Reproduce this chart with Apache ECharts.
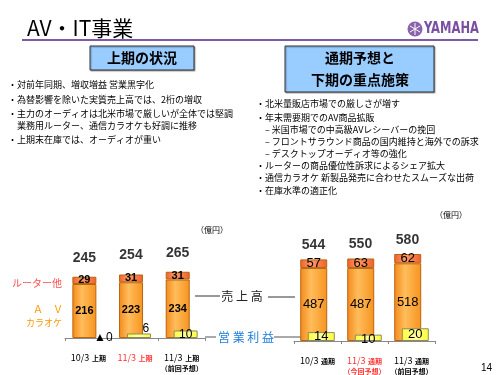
<!DOCTYPE html>
<html>
<head>
<meta charset="utf-8">
<title>AV・IT事業</title>
<script src="https://cdn.jsdelivr.net/npm/echarts@6/dist/echarts.min.js"></script>
<style>
    html, body { margin: 0; padding: 0; background: #fff; }
    #main { width: 500px; height: 375px; }
</style>
</head>
<body>
<div id="main"></div>
<script type="text/javascript">
    // 上期 (億円)
    var halfCats = ['10/3 上期', '11/3 上期', '11/3 上期\n（前回予想）'];
    var halfAV = [216, 223, 234];
    var halfRouter = [29, 31, 31];
    var halfSales = [245, 254, 265];
    var halfOp = [0, 6, 10];
    var halfOpText = ['▲0', '6', '10'];

    // 通期 (億円)
    var fullCats = ['10/3 通期', '11/3 通期\n（今回予想）', '11/3 通期\n（前回予想）'];
    var fullAV = [487, 487, 518];
    var fullRouter = [57, 63, 62];
    var fullSales = [544, 550, 580];
    var fullOp = [14, 10, 20];
    var fullOpText = ['14', '10', '20'];

    var leftNotes = [
        '・対前年同期、増収増益 営業黒字化',
        '・為替影響を除いた実質売上高では、2桁の増収',
        '・主力のオーディオは北米市場で厳しいが全体では堅調',
        '　業務用ルーター、通信カラオケも好調に推移',
        '・上期末在庫では、オーディオが重い'
    ];
    var rightNotes = [
        '・北米量販店市場での厳しさが増す',
        '・年末需要期でのAV商品拡販',
        '　– 米国市場での中高級AVレシーバーの挽回',
        '　– フロントサラウンド商品の国内維持と海外での訴求',
        '　– デスクトップオーディオ等の強化',
        '・ルーターの商品優位性訴求によるシェア拡大',
        '・通信カラオケ 新製品発売に合わせたスムーズな出荷',
        '・在庫水準の適正化'
    ];

    var jp = '"Noto Sans CJK JP", sans-serif';

    var orange = {
        color: {
            type: 'linear', x: 0, y: 0, x2: 1, y2: 0,
            colorStops: [{offset: 0, color: '#f5891a'}, {offset: 0.4, color: '#ffbd5c'}, {offset: 1, color: '#f7931e'}]
        },
        borderColor: '#b8660f',
        borderWidth: 1
    };
    var red = {
        color: {
            type: 'linear', x: 0, y: 0, x2: 1, y2: 0,
            colorStops: [{offset: 0, color: '#f0602a'}, {offset: 0.4, color: '#ff9a6a'}, {offset: 1, color: '#f0602a'}]
        },
        borderColor: '#b8660f',
        borderWidth: 1
    };
    var yellow = {
        color: {
            type: 'linear', x: 0, y: 0, x2: 1, y2: 0,
            colorStops: [{offset: 0, color: '#ffff33'}, {offset: 0.5, color: '#ffffa0'}, {offset: 1, color: '#ffff33'}]
        },
        borderColor: '#8a8a60',
        borderWidth: 1
    };

    function catLabel(value, index) {
        var lines = value.split('\n');
        var head = lines[0].split(' ');
        var r = index === 1 ? 'r' : '';
        var s = '{n' + r + '|' + head[0] + '} {s' + r + '|' + head[1] + '}';
        if (lines[1]) {
            s += '\n{s' + r + '|' + lines[1] + '}';
        }
        return s;
    }

    var catRich = {
        n: {fontSize: 9, color: '#000', fontFamily: jp, lineHeight: 9},
        s: {fontSize: 7, fontWeight: 'bold', color: '#000', fontFamily: jp, lineHeight: 9},
        nr: {fontSize: 9, color: '#ff3333', fontFamily: jp, lineHeight: 9},
        sr: {fontSize: 7, fontWeight: 'bold', color: '#ff3333', fontFamily: jp, lineHeight: 9}
    };

    function xAxisFor(gridIndex, cats) {
        return {
            type: 'category',
            gridIndex: gridIndex,
            data: cats,
            axisLine: {lineStyle: {color: '#888', width: 1}},
            axisTick: {show: true, length: 3, lineStyle: {color: '#888'}},
            axisLabel: {interval: 0, margin: 14, formatter: catLabel, rich: catRich, verticalAlign: 'top'}
        };
    }

    function yAxisFor(gridIndex, max) {
        return {type: 'value', gridIndex: gridIndex, min: 0, max: max, show: false, splitLine: {show: false}};
    }

    var halfOpPos = [
        {position: 'inside', offset: [11, 0], fontSize: 12},
        {position: 'top', distance: 0, offset: [7, 1], fontSize: 12},
        {position: 'inside', fontSize: 12}
    ];
    var fullOpPos = [
        {position: 'inside', fontSize: 13},
        {position: 'inside', offset: [0, 2], fontSize: 13},
        {position: 'inside', fontSize: 13}
    ];

    function opData(values, texts, pos) {
        return values.map(function (v, i) {
            var item = {
                value: v,
                label: Object.assign({show: true, formatter: texts[i], color: '#000', fontFamily: 'Liberation Sans'}, pos[i])
            };
            if (v === 0) {
                item.itemStyle = {color: 'transparent', borderWidth: 0};
            }
            return item;
        });
    }

    var notes = [];
    leftNotes.forEach(function (t, i) {
        notes.push({
            type: 'text', left: 8, top: [80, 95, 109, 121, 135][i],
            style: {text: t, font: '9px ' + jp, fill: '#000'}
        });
    });
    rightNotes.forEach(function (t, i) {
        notes.push({
            type: 'text', left: 256, top: [99, 113, 125, 137, 149, 161, 173, 186][i],
            style: {text: t, font: '9px ' + jp, fill: '#000'}
        });
    });

    var option = {
        animation: false,
        backgroundColor: '#fff',
        textStyle: {fontFamily: jp},
        grid: [
            {left: 65, width: 140, top: 238, height: 100},
            {left: 294, width: 141, top: 236, height: 107}
        ],
        xAxis: [xAxisFor(0, halfCats), xAxisFor(1, fullCats)],
        yAxis: [yAxisFor(0, 400), yAxisFor(0, 133), yAxisFor(1, 700), yAxisFor(1, 165)],
        series: [
            {
                name: 'AV・カラオケ', type: 'bar', xAxisIndex: 0, yAxisIndex: 0, stack: 'half',
                barWidth: 24, barGap: '-67%', data: halfAV, itemStyle: orange,
                label: {show: true, position: 'inside', fontSize: 11, fontWeight: 'bold', color: '#000', fontFamily: 'Liberation Sans'}
            },
            {
                name: 'ルーター他', type: 'bar', xAxisIndex: 0, yAxisIndex: 0, stack: 'half',
                barWidth: 24, barGap: '-67%', data: halfRouter, itemStyle: red,
                label: {show: true, position: 'inside', fontSize: 11, fontWeight: 'bold', color: '#000', fontFamily: 'Liberation Sans'}
            },
            {
                name: '営業利益', type: 'bar', xAxisIndex: 0, yAxisIndex: 1,
                barWidth: 24, barGap: '-67%', data: opData(halfOp, halfOpText, halfOpPos), itemStyle: yellow
            },
            {
                name: '売上高', type: 'scatter', xAxisIndex: 0, yAxisIndex: 0, symbolSize: 0,
                data: halfSales, silent: true,
                label: {show: true, position: 'top', distance: 12, offset: [-4, 0], fontSize: 14, fontWeight: 'bold', color: '#000', fontFamily: 'Liberation Sans'}
            },
            {
                name: 'AV・カラオケ', type: 'bar', xAxisIndex: 1, yAxisIndex: 2, stack: 'full',
                barWidth: 27, barGap: '-72%', data: fullAV, itemStyle: orange,
                label: {show: true, position: 'inside', fontSize: 13, color: '#000', fontFamily: 'Liberation Sans'}
            },
            {
                name: 'ルーター他', type: 'bar', xAxisIndex: 1, yAxisIndex: 2, stack: 'full',
                barWidth: 27, barGap: '-72%', data: fullRouter, itemStyle: red,
                label: {show: true, position: 'inside', fontSize: 13, color: '#000', fontFamily: 'Liberation Sans'}
            },
            {
                name: '営業利益', type: 'bar', xAxisIndex: 1, yAxisIndex: 3,
                barWidth: 27, barGap: '-72%', data: opData(fullOp, fullOpText, fullOpPos), itemStyle: yellow
            },
            {
                name: '売上高', type: 'scatter', xAxisIndex: 1, yAxisIndex: 2, symbolSize: 0,
                data: fullSales, silent: true,
                label: {show: true, position: 'top', distance: 7, offset: [-4, 0], fontSize: 14, fontWeight: 'bold', color: '#000', fontFamily: 'Liberation Sans'}
            }
        ],
        graphic: [
            // タイトル
            {type: 'text', left: 27, top: 18, style: {text: 'AV・IT事業', font: '21px ' + jp, fill: '#000'}},
            {type: 'line', shape: {x1: 22, y1: 40, x2: 478, y2: 40}, style: {stroke: '#7d5aa6', lineWidth: 2}},
            // ロゴ
            {type: 'circle', shape: {cx: 415, cy: 29, r: 7.5}, style: {fill: '#8a63ad'}},
            {type: 'line', shape: {x1: 415, y1: 23, x2: 415, y2: 35}, style: {stroke: '#fff', lineWidth: 1}},
            {type: 'line', shape: {x1: 410, y1: 26, x2: 420, y2: 32}, style: {stroke: '#fff', lineWidth: 1}},
            {type: 'line', shape: {x1: 410, y1: 32, x2: 420, y2: 26}, style: {stroke: '#fff', lineWidth: 1}},
            {type: 'text', x: 424, y: 29, scaleX: 0.8, style: {text: 'YAMAHA', font: 'bold 16px "DejaVu Sans Condensed", "Liberation Sans Narrow", sans-serif', fill: '#7b4fa0', verticalAlign: 'middle'}},
            // 見出し
            {type: 'rect', shape: {x: 90, y: 46, width: 104, height: 24}, style: {fill: '#99ccff', stroke: '#333', lineWidth: 1, shadowColor: 'rgba(0,0,0,0.3)', shadowOffsetX: 1, shadowOffsetY: 1, shadowBlur: 1}},
            {type: 'text', x: 142, y: 58, style: {text: '上期の状況', font: 'bold 14px ' + jp, fill: '#000', align: 'center', verticalAlign: 'middle'}},
            {type: 'rect', shape: {x: 285, y: 46, width: 149, height: 46}, style: {fill: '#99ccff', stroke: '#333', lineWidth: 1, shadowColor: 'rgba(0,0,0,0.3)', shadowOffsetX: 1, shadowOffsetY: 1, shadowBlur: 1}},
            {type: 'text', x: 360, y: 58, style: {text: '通期予想と', font: 'bold 14px ' + jp, fill: '#000', align: 'center', verticalAlign: 'middle'}},
            {type: 'text', x: 360, y: 80, style: {text: '下期の重点施策', font: 'bold 14px ' + jp, fill: '#000', align: 'center', verticalAlign: 'middle'}},
            // 単位
            {type: 'text', x: 196, y: 230, style: {text: '（億円）', font: '8px ' + jp, fill: '#000', verticalAlign: 'middle'}},
            {type: 'text', x: 435, y: 215, style: {text: '（億円）', font: '8px ' + jp, fill: '#000', verticalAlign: 'middle'}},
            // 凡例
            {type: 'text', x: 62, y: 283, style: {text: 'ルーター他', font: '10px ' + jp, fill: '#ff4d4d', align: 'right', verticalAlign: 'middle'}},
            {type: 'text', x: 63, y: 309, style: {text: 'Ａ　Ｖ', font: '10px ' + jp, fill: '#ff9900', align: 'right', verticalAlign: 'middle'}},
            {type: 'text', x: 62, y: 323, style: {text: 'カラオケ', font: '9px ' + jp, fill: '#ff9900', align: 'right', verticalAlign: 'middle'}},
            // 売上高・営業利益
            {type: 'line', shape: {x1: 195, y1: 296, x2: 220, y2: 296}, style: {stroke: '#333', lineWidth: 1}},
            {type: 'text', x: 242, y: 296, style: {text: '売 上 高', font: '12px ' + jp, fill: '#222', align: 'center', verticalAlign: 'middle'}},
            {type: 'line', shape: {x1: 268, y1: 297, x2: 295, y2: 297}, style: {stroke: '#333', lineWidth: 1}},
            {type: 'line', shape: {x1: 205, y1: 337, x2: 216, y2: 337}, style: {stroke: '#555', lineWidth: 1}},
            {type: 'text', x: 246, y: 337, style: {text: '営 業 利 益', font: '12px ' + jp, fill: '#1f7fdc', align: 'center', verticalAlign: 'middle'}},
            {type: 'line', shape: {x1: 274, y1: 337, x2: 306, y2: 337}, style: {stroke: '#555', lineWidth: 1}},
            // ページ番号
            {type: 'text', x: 492, y: 368, style: {text: '14', font: '10px "Liberation Sans", sans-serif', fill: '#000', align: 'right', verticalAlign: 'middle'}}
        ].concat(notes)
    };

    var chart = echarts.init(document.getElementById('main'));
    chart.setOption(option);
</script>
</body>
</html>
